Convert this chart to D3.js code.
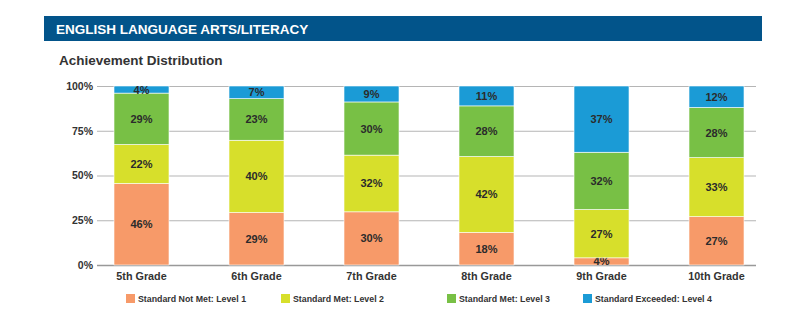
<!DOCTYPE html>
<html>
<head>
<meta charset="utf-8">
<script src="https://cdn.jsdelivr.net/npm/d3@7"></script>
<style>
  body { margin: 0; background: #fff; }
  svg { font-family: "Liberation Sans", Arial, sans-serif; }
</style>
</head>
<body>
<div id="chart"></div>
<script>
// Chart data
var grades = ['5th Grade', '6th Grade', '7th Grade', '8th Grade', '9th Grade', '10th Grade'],
    levels = ['Standard Not Met: Level 1', 'Standard Met: Level 2', 'Standard Met: Level 3', 'Standard Exceeded: Level 4'],
    level1 = [46, 29, 30, 18, 4, 27],
    level2 = [22, 40, 32, 42, 27, 33],
    level3 = [29, 23, 30, 28, 32, 28],
    level4 = [4, 7, 9, 11, 37, 12],
    yTicks = [0, 25, 50, 75, 100];

var colors = ['#f79a69', '#d7df2b', '#78c045', '#1b9bd6'];

var width = 800,
    height = 317,
    // plot area
    plotTop = 86,
    plotBottom = 265,
    plotLeft = 97,
    plotRight = 756;

var rows = grades.map(function(g, i) {
    return { grade: g, l0: level1[i], l1: level2[i], l2: level3[i], l3: level4[i] };
});

var svg = d3.select('#chart').append('svg')
    .attr('width', width)
    .attr('height', height);

// Banner
svg.append('rect')
    .attr('x', 44).attr('y', 16)
    .attr('width', 718).attr('height', 25)
    .attr('fill', '#02548a');
svg.append('text')
    .attr('x', 56).attr('y', 33.5)
    .attr('fill', '#fff')
    .attr('font-size', 13.5)
    .attr('font-weight', 'bold')
    .text('ENGLISH LANGUAGE ARTS/LITERACY');

svg.append('text')
    .attr('x', 59).attr('y', 64.5)
    .attr('fill', '#333')
    .attr('font-size', 13.5)
    .attr('font-weight', 'bold')
    .text('Achievement Distribution');

var x = d3.scaleBand()
    .domain(grades)
    .range([plotLeft, plotLeft + 115 * 5.774])
    .paddingInner(60 / 115)
    .paddingOuter(17 / 115);

var y = d3.scaleLinear()
    .domain([0, 1])
    .range([plotBottom, plotTop]);

// Grid lines + y labels
var yAxis = d3.axisLeft(y)
    .tickValues(yTicks.map(function(t) { return t / 100; }))
    .tickSize(-(plotRight - plotLeft))
    .tickPadding(4)
    .tickFormat(function(d) { return Math.round(d * 100) + '%'; });

var gy = svg.append('g')
    .attr('transform', 'translate(' + plotLeft + ',0)')
    .call(yAxis);
gy.select('.domain').remove();
gy.selectAll('.tick line')
    .attr('stroke', function(d) { return d === 0 ? '#999' : '#b5b5b5'; })
    .attr('stroke-width', function(d) { return d === 0 ? 1.5 : 1; });
gy.selectAll('.tick text')
    .attr('fill', '#333')
    .attr('font-size', 10.5)
    .attr('font-weight', 'bold')
    .attr('font-family', '"Liberation Sans", Arial, sans-serif');

// Stacked bars
var stack = d3.stack()
    .keys(['l0', 'l1', 'l2', 'l3'])
    .offset(d3.stackOffsetExpand);
var series = stack(rows);

var layer = svg.selectAll('g.layer').data(series).enter()
    .append('g')
    .attr('class', 'layer')
    .attr('fill', function(d, i) { return colors[i]; });

layer.selectAll('rect').data(function(d) { return d; }).enter()
    .append('rect')
    .attr('x', function(d) { return x(d.data.grade); })
    .attr('width', x.bandwidth())
    .attr('y', function(d) { return y(d[1]); })
    .attr('height', function(d) { return y(d[0]) - y(d[1]); })
    .attr('stroke', '#fff')
    .attr('stroke-width', 0.6);

layer.selectAll('text').data(function(s) {
        return s.map(function(d) { return { d: d, key: s.key }; });
    }).enter()
    .append('text')
    .attr('x', function(o) { return x(o.d.data.grade) + x.bandwidth() / 2; })
    .attr('y', function(o) { return (y(o.d[0]) + y(o.d[1])) / 2 + 4; })
    .attr('text-anchor', 'middle')
    .attr('fill', '#2b2b2b')
    .attr('font-size', 11)
    .attr('font-weight', 'bold')
    .text(function(o) { return o.d.data[o.key] + '%'; });

// X labels
var xAxis = d3.axisBottom(x).tickSize(0).tickPadding(7.5);
var gx = svg.append('g')
    .attr('transform', 'translate(0,' + plotBottom + ')')
    .call(xAxis);
gx.select('.domain').remove();
gx.selectAll('.tick text')
    .attr('fill', '#333')
    .attr('font-size', 10.8)
    .attr('font-weight', 'bold')
    .attr('font-family', '"Liberation Sans", Arial, sans-serif');

// Legend
var legendX = [126, 281, 447, 583];
var legend = svg.selectAll('g.legend').data(levels).enter()
    .append('g')
    .attr('class', 'legend')
    .attr('transform', function(d, i) { return 'translate(' + legendX[i] + ',294)'; });
legend.append('rect')
    .attr('width', 9).attr('height', 9)
    .attr('fill', function(d, i) { return colors[i]; });
legend.append('text')
    .attr('x', 12).attr('y', 8)
    .attr('fill', '#333')
    .attr('font-size', 8.8)
    .attr('font-weight', 'bold')
    .text(function(d) { return d; });
</script>
</body>
</html>
